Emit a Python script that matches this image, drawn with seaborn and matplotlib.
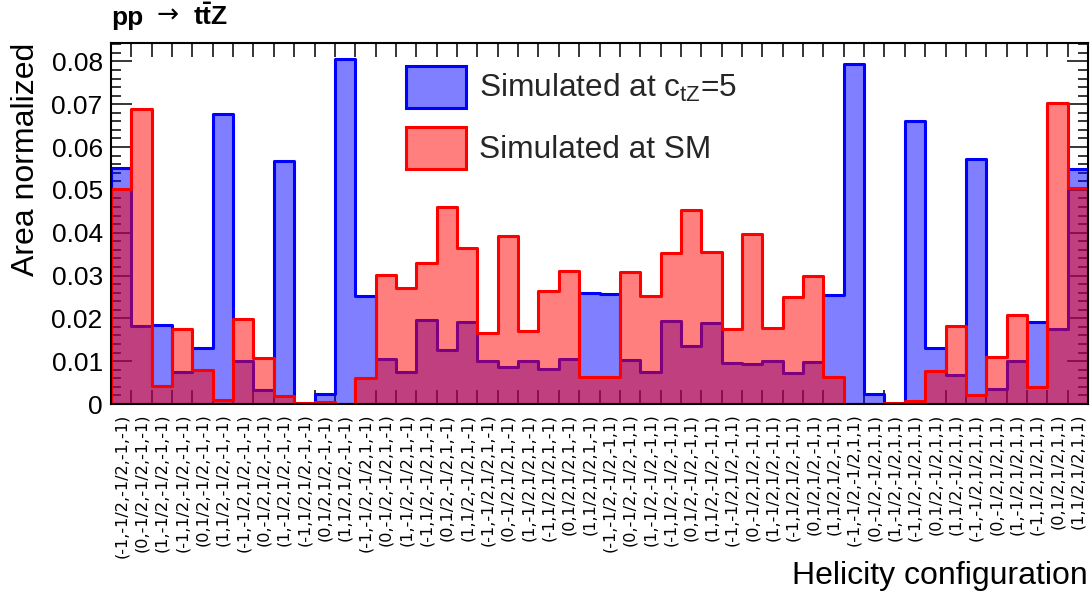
import numpy as np
import pandas as pd
import matplotlib
matplotlib.use("Agg")
import matplotlib.pyplot as plt
import seaborn as sns
from matplotlib.ticker import MultipleLocator, FixedLocator
from matplotlib.patches import Patch

helicity_labels = [
    "(-1,-1/2,-1/2,-1,-1)", "(0,-1/2,-1/2,-1,-1)", "(1,-1/2,-1/2,-1,-1)",
    "(-1,1/2,-1/2,-1,-1)", "(0,1/2,-1/2,-1,-1)", "(1,1/2,-1/2,-1,-1)",
    "(-1,-1/2,1/2,-1,-1)", "(0,-1/2,1/2,-1,-1)", "(1,-1/2,1/2,-1,-1)",
    "(-1,1/2,1/2,-1,-1)", "(0,1/2,1/2,-1,-1)", "(1,1/2,1/2,-1,-1)",
    "(-1,-1/2,-1/2,1,-1)", "(0,-1/2,-1/2,1,-1)", "(1,-1/2,-1/2,1,-1)",
    "(-1,1/2,-1/2,1,-1)", "(0,1/2,-1/2,1,-1)", "(1,1/2,-1/2,1,-1)",
    "(-1,-1/2,1/2,1,-1)", "(0,-1/2,1/2,1,-1)", "(1,-1/2,1/2,1,-1)",
    "(-1,1/2,1/2,1,-1)", "(0,1/2,1/2,1,-1)", "(1,1/2,1/2,1,-1)",
    "(-1,-1/2,-1/2,-1,1)", "(0,-1/2,-1/2,-1,1)", "(1,-1/2,-1/2,-1,1)",
    "(-1,1/2,-1/2,-1,1)", "(0,1/2,-1/2,-1,1)", "(1,1/2,-1/2,-1,1)",
    "(-1,-1/2,1/2,-1,1)", "(0,-1/2,1/2,-1,1)", "(1,-1/2,1/2,-1,1)",
    "(-1,1/2,1/2,-1,1)", "(0,1/2,1/2,-1,1)", "(1,1/2,1/2,-1,1)",
    "(-1,-1/2,-1/2,1,1)", "(0,-1/2,-1/2,1,1)", "(1,-1/2,-1/2,1,1)",
    "(-1,1/2,-1/2,1,1)", "(0,1/2,-1/2,1,1)", "(1,1/2,-1/2,1,1)",
    "(-1,-1/2,1/2,1,1)", "(0,-1/2,1/2,1,1)", "(1,-1/2,1/2,1,1)",
    "(-1,1/2,1/2,1,1)", "(0,1/2,1/2,1,1)", "(1,1/2,1/2,1,1)",
]

ctz5_values = [
    0.0551, 0.0181, 0.0184, 0.0074, 0.0130, 0.0678, 0.0101, 0.0032, 0.0568, 0.0000, 0.0023, 0.0806,
    0.0252, 0.0105, 0.0074, 0.0195, 0.0127, 0.0192, 0.0101, 0.0087, 0.0100, 0.0082, 0.0104, 0.0259,
    0.0257, 0.0103, 0.0074, 0.0193, 0.0136, 0.0190, 0.0096, 0.0093, 0.0100, 0.0072, 0.0098, 0.0255,
    0.0795, 0.0023, 0.0000, 0.0660, 0.0130, 0.0067, 0.0572, 0.0035, 0.0100, 0.0192, 0.0175, 0.0548,
]

sm_values = [
    0.0501, 0.0690, 0.0043, 0.0176, 0.0079, 0.0009, 0.0198, 0.0108, 0.0018, 0.0003, 0.0005, 0.0001,
    0.0060, 0.0301, 0.0272, 0.0329, 0.0461, 0.0364, 0.0165, 0.0393, 0.0170, 0.0263, 0.0310, 0.0062,
    0.0062, 0.0309, 0.0252, 0.0352, 0.0452, 0.0355, 0.0175, 0.0397, 0.0177, 0.0249, 0.0298, 0.0062,
    0.0001, 0.0001, 0.0003, 0.0008, 0.0078, 0.0183, 0.0020, 0.0109, 0.0207, 0.0040, 0.0703, 0.0505,
]

yticks = [0, 0.01, 0.02, 0.03, 0.04, 0.05, 0.06, 0.07, 0.08]
ytick_labels = ["0", "0.01", "0.02", "0.03", "0.04", "0.05", "0.06", "0.07", "0.08"]
legend_labels = [r"Simulated at c$_{\mathrm{tZ}}$=5", "Simulated at SM"]

sns.set_theme(style="white")
plt.rcParams["font.family"] = ["Liberation Sans", "DejaVu Sans"]
plt.rcParams["mathtext.fontset"] = "custom"
plt.rcParams["mathtext.rm"] = "Liberation Sans"
plt.rcParams["mathtext.it"] = "Liberation Sans:italic"
plt.rcParams["mathtext.bf"] = "Liberation Sans:bold"

fig = plt.figure(figsize=(10.92, 5.96), dpi=100)
ax = fig.add_axes([111 / 1092, 1 - 404 / 596, 977 / 1092, 361 / 596])

n = len(helicity_labels)
df = pd.DataFrame({"bin": np.arange(n), "ctz5": ctz5_values, "sm": sm_values})
edges = np.arange(n + 1) - 0.5

sns.histplot(data=df, x="bin", weights="ctz5", discrete=True, element="step", fill=True,
             color="blue", alpha=0.5, linewidth=2.2, ax=ax)
sns.histplot(data=df, x="bin", weights="sm", discrete=True, element="step", fill=True,
             color="red", alpha=0.5, linewidth=2.2, ax=ax)

ax.set_xlim(-0.5, n - 0.5)
ax.set_ylim(0, 0.0843)

ax.set_xticks(np.arange(n))
ax.set_xticklabels(helicity_labels, rotation=90, fontfamily="DejaVu Sans", fontsize=11.6)
ax.xaxis.set_minor_locator(FixedLocator(edges[1:-1]))
ax.tick_params(axis="x", which="major", length=0, pad=7, bottom=True, top=False, labelcolor="black")
ax.tick_params(axis="x", which="minor", direction="in", length=10, width=1.1,
               bottom=True, top=True, color="black")

ax.set_yticks(yticks, labels=ytick_labels)
ax.yaxis.set_minor_locator(MultipleLocator(0.002))
ax.tick_params(axis="y", which="major", direction="in", length=15, width=1.1, left=True, right=True,
               labelsize=19, pad=6, color="black", labelcolor="black")
ax.tick_params(axis="y", which="minor", direction="in", length=7.5, width=1.1, left=True, right=True,
               color="black")
ax.set_axisbelow(True)

for sp in ax.spines.values():
    sp.set_color("black")
    sp.set_linewidth(1.5)
    sp.set_visible(True)

ax.set_ylabel("Area normalized", fontsize=23, loc="top", color="black")
ax.yaxis.set_label_coords(-0.072, 1.0)
ax.set_xlabel("Helicity configuration", fontsize=23, loc="right", color="black")
ax.xaxis.set_label_coords(1.0, -0.434)

handles = [Patch(facecolor=(0, 0, 1, 0.5), edgecolor="blue", linewidth=2.2),
           Patch(facecolor=(1, 0, 0, 0.5), edgecolor="red", linewidth=2.2)]
ax.legend(handles, legend_labels, loc="upper left", bbox_to_anchor=(406 / 1092, 1 - 66 / 596),
          bbox_transform=fig.transFigure, frameon=False, fontsize=22.8, handlelength=1.9,
          handleheight=1.66, handletextpad=0.4, labelspacing=0.6, borderpad=0, borderaxespad=0)

title_y = 1 - 25 / 596
fig.text(111 / 1092, title_y, "pp", fontsize=19, fontweight="bold", ha="left", va="baseline",
         color="black")
fig.text(157 / 1092, title_y + 2 / 596, "\u2192", fontsize=19, fontfamily="DejaVu Sans",
         ha="left", va="baseline", color="black")
fig.text(193 / 1092, title_y, r"$\mathbf{t\bar{t}Z}$", fontsize=19, ha="left", va="baseline",
         color="black")

fig.savefig("out.png", dpi=100)
